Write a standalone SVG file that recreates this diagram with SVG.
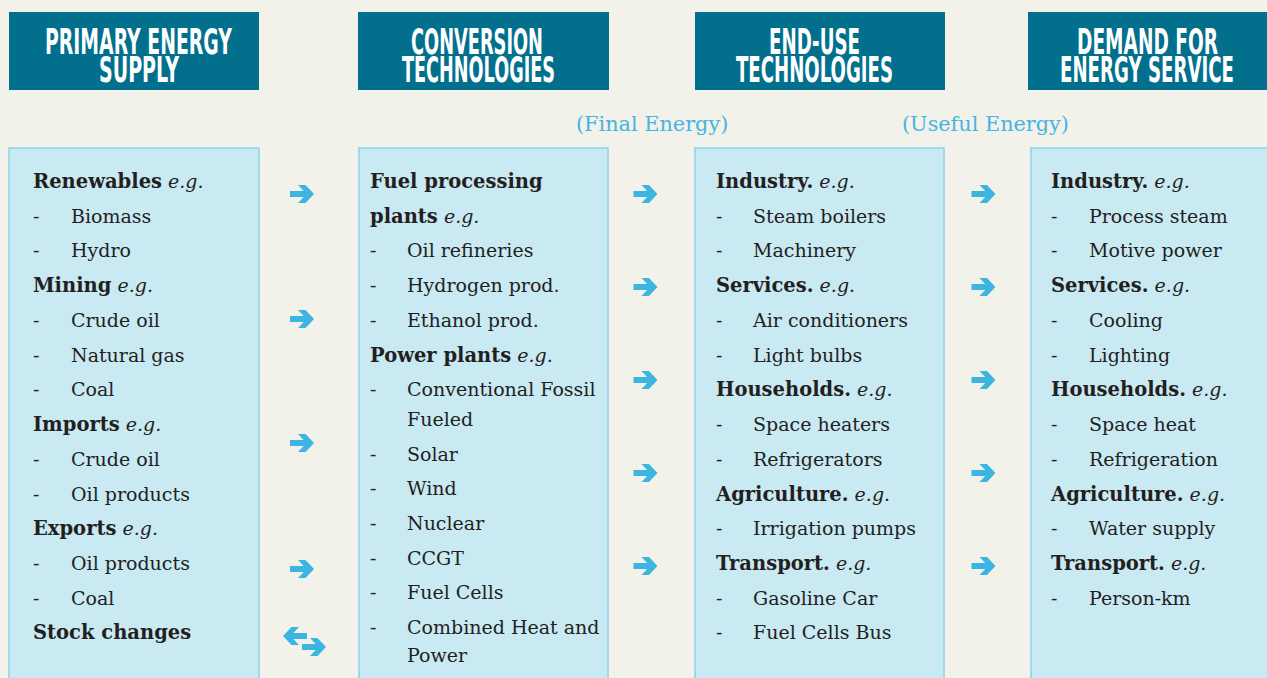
<svg xmlns="http://www.w3.org/2000/svg" width="1267" height="678" viewBox="0 0 1267 678">
<style>
.hdr{fill:#02708D}
.ht{font-family:"DejaVu Sans",sans-serif;font-weight:bold;font-size:35px;fill:#ffffff}
.box{fill:#C9E9F3;stroke:#8DD2EB;stroke-width:1.5}
.t{font-family:"DejaVu Serif",serif;font-size:19px;fill:#231F20}
.b{font-weight:bold;font-size:19.5px}
.i{font-style:italic}
.lbl{font-family:"DejaVu Serif",serif;font-size:20.8px;fill:#45B4E2}
.arw{fill:#3DB5E2}
</style>
<defs>
<path id="arr" d="M-12,-3 H1.7 L-4,-9 H3.5 L12,0 L3.5,9 H-4 L1.7,3 H-12 Z"/>
</defs>
<rect x="0" y="0" width="1267" height="678" fill="#F2F1EA"/>

<g id="hdr-primary">
<rect class="hdr" x="9" y="12" width="250" height="78"/>
<text class="ht" transform="scale(0.53,1)" x="84.91" y="54" textLength="352.83" lengthAdjust="spacingAndGlyphs">PRIMARY ENERGY</text>
<text class="ht" transform="scale(0.53,1)" x="186.79" y="82.5" textLength="150.94" lengthAdjust="spacingAndGlyphs">SUPPLY</text>
</g>
<g id="hdr-conversion">
<rect class="hdr" x="358" y="12" width="251" height="78"/>
<text class="ht" transform="scale(0.53,1)" x="775.47" y="54" textLength="249.06" lengthAdjust="spacingAndGlyphs">CONVERSION</text>
<text class="ht" transform="scale(0.53,1)" x="758.49" y="82.5" textLength="288.68" lengthAdjust="spacingAndGlyphs">TECHNOLOGIES</text>
</g>
<g id="hdr-enduse">
<rect class="hdr" x="695" y="12" width="250" height="78"/>
<text class="ht" transform="scale(0.53,1)" x="1450.94" y="54" textLength="171.70" lengthAdjust="spacingAndGlyphs">END-USE</text>
<text class="ht" transform="scale(0.53,1)" x="1388.68" y="82.5" textLength="296.23" lengthAdjust="spacingAndGlyphs">TECHNOLOGIES</text>
</g>
<g id="hdr-demand">
<rect class="hdr" x="1028" y="12" width="245" height="78"/>
<text class="ht" transform="scale(0.53,1)" x="2032.08" y="54" textLength="266.04" lengthAdjust="spacingAndGlyphs">DEMAND FOR</text>
<text class="ht" transform="scale(0.53,1)" x="2000" y="82.5" textLength="328.30" lengthAdjust="spacingAndGlyphs">ENERGY SERVICE</text>
</g>

<g id="label-final"><text class="lbl" x="576" y="131">(Final Energy)</text></g>
<g id="label-useful"><text class="lbl" x="902" y="131">(Useful Energy)</text></g>

<g id="box-primary">
<rect class="box" x="9" y="148" width="250" height="545"/>
<g class="t">
<text x="33" y="188"><tspan class="b">Renewables</tspan><tspan class="i"> e.g.</tspan></text>
<text x="33" y="222.7">-</text><text x="71" y="222.7">Biomass</text>
<text x="33" y="257.4">-</text><text x="71" y="257.4">Hydro</text>
<text x="33" y="292.2"><tspan class="b">Mining</tspan><tspan class="i"> e.g.</tspan></text>
<text x="33" y="326.9">-</text><text x="71" y="326.9">Crude oil</text>
<text x="33" y="361.6">-</text><text x="71" y="361.6">Natural gas</text>
<text x="33" y="396.3">-</text><text x="71" y="396.3">Coal</text>
<text x="33" y="431"><tspan class="b">Imports</tspan><tspan class="i"> e.g.</tspan></text>
<text x="33" y="465.8">-</text><text x="71" y="465.8">Crude oil</text>
<text x="33" y="500.5">-</text><text x="71" y="500.5">Oil products</text>
<text x="33" y="535.2"><tspan class="b">Exports</tspan><tspan class="i"> e.g.</tspan></text>
<text x="33" y="569.9">-</text><text x="71" y="569.9">Oil products</text>
<text x="33" y="604.6">-</text><text x="71" y="604.6">Coal</text>
<text x="33" y="639.4" class="b">Stock changes</text>
</g>
</g>

<g id="box-conversion">
<rect class="box" x="359" y="148" width="249" height="545"/>
<g class="t">
<text x="370" y="188" class="b">Fuel processing</text>
<text x="370" y="222.7"><tspan class="b">plants</tspan><tspan class="i"> e.g.</tspan></text>
<text x="370" y="257.4">-</text><text x="407" y="257.4">Oil refineries</text>
<text x="370" y="292.2">-</text><text x="407" y="292.2">Hydrogen prod.</text>
<text x="370" y="326.9">-</text><text x="407" y="326.9">Ethanol prod.</text>
<text x="370" y="361.6"><tspan class="b">Power plants</tspan><tspan class="i"> e.g.</tspan></text>
<text x="370" y="396">-</text><text x="407" y="396">Conventional Fossil</text>
<text x="407" y="426">Fueled</text>
<text x="370" y="460.5">-</text><text x="407" y="460.5">Solar</text>
<text x="370" y="495">-</text><text x="407" y="495">Wind</text>
<text x="370" y="530">-</text><text x="407" y="530">Nuclear</text>
<text x="370" y="564.5">-</text><text x="407" y="564.5">CCGT</text>
<text x="370" y="599">-</text><text x="407" y="599">Fuel Cells</text>
<text x="370" y="634">-</text><text x="407" y="634">Combined Heat and</text>
<text x="407" y="662">Power</text>
</g>
</g>

<g id="box-enduse">
<rect class="box" x="695" y="148" width="249" height="545"/>
<g class="t">
<text x="716" y="188"><tspan class="b">Industry.</tspan><tspan class="i"> e.g.</tspan></text>
<text x="716" y="222.7">-</text><text x="753" y="222.7">Steam boilers</text>
<text x="716" y="257.4">-</text><text x="753" y="257.4">Machinery</text>
<text x="716" y="292.2"><tspan class="b">Services.</tspan><tspan class="i"> e.g.</tspan></text>
<text x="716" y="326.9">-</text><text x="753" y="326.9">Air conditioners</text>
<text x="716" y="361.6">-</text><text x="753" y="361.6">Light bulbs</text>
<text x="716" y="396.3"><tspan class="b">Households.</tspan><tspan class="i"> e.g.</tspan></text>
<text x="716" y="431">-</text><text x="753" y="431">Space heaters</text>
<text x="716" y="465.8">-</text><text x="753" y="465.8">Refrigerators</text>
<text x="716" y="500.5"><tspan class="b">Agriculture.</tspan><tspan class="i"> e.g.</tspan></text>
<text x="716" y="535.2">-</text><text x="753" y="535.2">Irrigation pumps</text>
<text x="716" y="569.9"><tspan class="b">Transport.</tspan><tspan class="i"> e.g.</tspan></text>
<text x="716" y="604.6">-</text><text x="753" y="604.6">Gasoline Car</text>
<text x="716" y="639.4">-</text><text x="753" y="639.4">Fuel Cells Bus</text>
</g>
</g>

<g id="box-demand">
<rect class="box" x="1031" y="148" width="245" height="545"/>
<g class="t">
<text x="1051" y="188"><tspan class="b">Industry.</tspan><tspan class="i"> e.g.</tspan></text>
<text x="1051" y="222.7">-</text><text x="1089" y="222.7">Process steam</text>
<text x="1051" y="257.4">-</text><text x="1089" y="257.4">Motive power</text>
<text x="1051" y="292.2"><tspan class="b">Services.</tspan><tspan class="i"> e.g.</tspan></text>
<text x="1051" y="326.9">-</text><text x="1089" y="326.9">Cooling</text>
<text x="1051" y="361.6">-</text><text x="1089" y="361.6">Lighting</text>
<text x="1051" y="396.3"><tspan class="b">Households.</tspan><tspan class="i"> e.g.</tspan></text>
<text x="1051" y="431">-</text><text x="1089" y="431">Space heat</text>
<text x="1051" y="465.8">-</text><text x="1089" y="465.8">Refrigeration</text>
<text x="1051" y="500.5"><tspan class="b">Agriculture.</tspan><tspan class="i"> e.g.</tspan></text>
<text x="1051" y="535.2">-</text><text x="1089" y="535.2">Water supply</text>
<text x="1051" y="569.9"><tspan class="b">Transport.</tspan><tspan class="i"> e.g.</tspan></text>
<text x="1051" y="604.6">-</text><text x="1089" y="604.6">Person-km</text>
</g>
</g>

<g id="connectors" class="arw">
<use href="#arr" transform="translate(302,194)"/>
<use href="#arr" transform="translate(302,319)"/>
<use href="#arr" transform="translate(302,443)"/>
<use href="#arr" transform="translate(302,569)"/>
<use href="#arr" transform="translate(295,636) scale(-1,1)"/>
<use href="#arr" transform="translate(314,647)"/>
<use href="#arr" transform="translate(645.5,194)"/>
<use href="#arr" transform="translate(645.5,287)"/>
<use href="#arr" transform="translate(645.5,380)"/>
<use href="#arr" transform="translate(645.5,473)"/>
<use href="#arr" transform="translate(645.5,566)"/>
<use href="#arr" transform="translate(983.5,194)"/>
<use href="#arr" transform="translate(983.5,287)"/>
<use href="#arr" transform="translate(983.5,380)"/>
<use href="#arr" transform="translate(983.5,473)"/>
<use href="#arr" transform="translate(983.5,566)"/>
</g>
</svg>
